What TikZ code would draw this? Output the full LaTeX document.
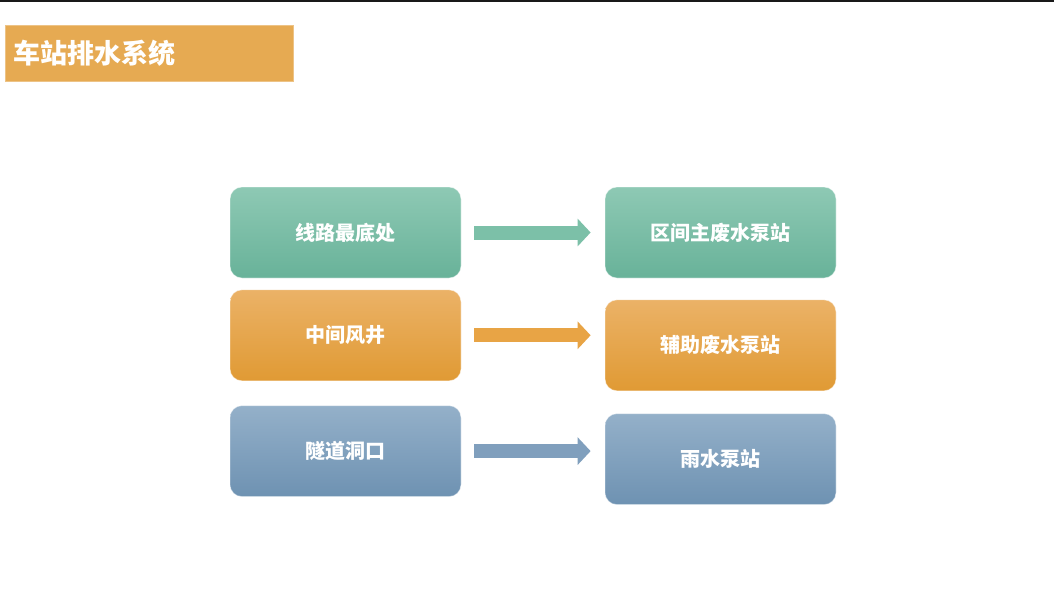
\documentclass[tikz,border=0pt]{standalone}
\usepackage{fontspec}
\newfontfamily\cjk{Noto Sans CJK SC}
\usetikzlibrary{arrows.meta, positioning}
\definecolor{grnTop}{HTML}{8EC9B4}
\definecolor{grnBot}{HTML}{68B299}
\definecolor{grnArr}{HTML}{7CC0A8}
\definecolor{orgTop}{HTML}{EBB267}
\definecolor{orgBot}{HTML}{E09A34}
\definecolor{orgArr}{HTML}{E8A445}
\definecolor{bluTop}{HTML}{94B0C9}
\definecolor{bluBot}{HTML}{6E92B2}
\definecolor{bluArr}{HTML}{809FBD}
\definecolor{ttlFill}{HTML}{E6AA52}
\tikzset{
  blk/.style  = {rounded corners=12pt, minimum width=231pt, minimum height=91pt,
                 inner sep=0pt, align=center, text=white,
                 font=\cjk\bfseries\fontsize{20pt}{23pt}\selectfont,
                 draw=white, draw opacity=0.45, line width=0.8pt},
  grn/.style  = {blk, top color=grnTop, bottom color=grnBot},
  org/.style  = {blk, top color=orgTop, bottom color=orgBot},
  blu/.style  = {blk, top color=bluTop, bottom color=bluBot},
  fl/.style   = {line width=14pt, -{Triangle[length=13pt, width=27pt]},
                 shorten <=13pt, shorten >=14pt},
  ttl/.style  = {fill=ttlFill, draw=ttlFill!70!white, line width=0.6pt,
                 minimum height=56pt, text width=272pt, inner xsep=8pt,
                 inner ysep=0pt, align=left, text=white,
                 font=\cjk\bfseries\fontsize{27pt}{31pt}\selectfont},
}
\begin{document}
\begin{tikzpicture}[x=1pt, y=-1pt]
\useasboundingbox (0,0) rectangle (1054,603);
\fill[white] (0,0) rectangle (1054,603);
\draw[line width=1.6pt, black!90] (0,0.8) -- (1054,0.8);
% title
\node[ttl, anchor=north west] (title) at (5,25) {车站排水系统};
% sources
\node[grn] (low) at (345.5,232.5) {线路最底处};
\node[org, below=11pt of low] (shaft) {中间风井};
\node[blu, below=24pt of shaft] (portal) {隧道洞口};
% pump stations
\node[grn] (mainps) at (720.5,232.5) {区间主废水泵站};
\node[org, below=21pt of mainps] (auxps) {辅助废水泵站};
\node[blu, below=22pt of auxps] (rainps) {雨水泵站};
% flows
\draw[fl, grnArr] (low.east) -- (low.east -| mainps.west);
\draw[fl, orgArr] (shaft.east) -- (shaft.east -| auxps.west);
\draw[fl, bluArr] (portal.east) -- (portal.east -| rainps.west);
\end{tikzpicture}
\end{document}
